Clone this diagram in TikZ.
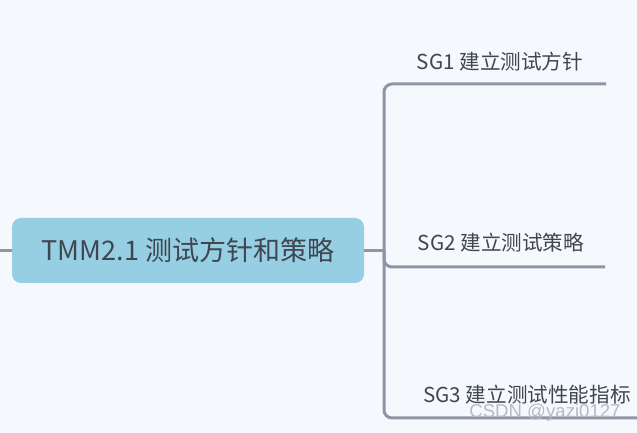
\documentclass[tikz,border=0pt]{standalone}
\usepackage{fontspec}
\setmainfont{Noto Sans CJK SC}
\newfontfamily\wmfont{Liberation Sans}
\usetikzlibrary{positioning}
\definecolor{paperblue}{RGB}{245,249,253}
\definecolor{rootblue}{RGB}{150,207,228}
\definecolor{linkgray}{RGB}{142,150,166}
\definecolor{inkgray}{RGB}{64,70,80}
\definecolor{wmgray}{RGB}{184,186,190}
\tikzset{
  root/.style={fill=rootblue,rounded corners=9pt,minimum width=352pt,
    minimum height=65pt,inner sep=0pt,text=inkgray,
    font=\fontsize{27}{32}\selectfont},
  goal/.style={text=inkgray,inner sep=1pt,
    font=\fontsize{20.6}{24}\selectfont},
  link/.style={draw=linkgray,line width=3pt,rounded corners=8pt},
  wmark/.style={text=wmgray,inner sep=0pt,
    font=\fontsize{18.6}{22}\selectfont\wmfont}
}

\begin{document}
\begin{tikzpicture}[x=1pt,y=1pt]
  \fill[paperblue] (0,0) rectangle (637,433);
  \useasboundingbox (0,0) rectangle (637,433);

  \node[root] (root) at (188,182.5) {TMM2.1 测试方针和策略};
  \coordinate (in) at (0,182.5);
  \coordinate (fork) at (384,182.5);
  \coordinate (e1) at (606,349);
  \coordinate (e2) at (605,166);
  \coordinate (e3) at (640,15);

  \draw[link] (in)--(root.west);
  \draw[link] (root.east)--(fork);
  \draw[link] (e1)-|(fork)|-(e3);
  \draw[link] (fork)|-(e2);

  \node[goal] (sg1) at (500,371) {SG1 建立测试方针};
  \node[goal] (sg2) at (501,190) {SG2 建立测试策略};
  \node[goal] (sg3) at (527,38) {SG3 建立测试性能指标};

  \node[wmark] (csdn) at (545,20) {CSDN @yazi0127};
\end{tikzpicture}
\end{document}
